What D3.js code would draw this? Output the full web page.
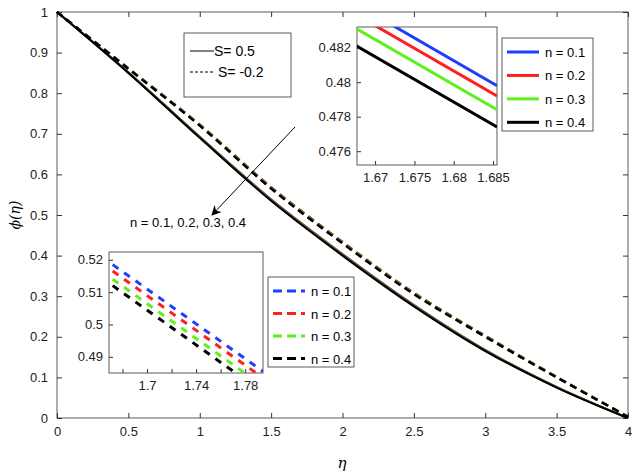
<!DOCTYPE html>
<html><head><meta charset="utf-8">
<script src="https://cdn.jsdelivr.net/npm/d3@7"></script>
<style>body{margin:0;background:#fff}svg{font-family:"Liberation Sans",Arial,sans-serif}</style>
</head><body><svg id="c" width="640" height="474"></svg>
<script>
// main curves
const eta = [0, 0.5, 1, 1.5, 2, 2.5, 3, 3.5, 4];
const solidBase = [1, 0.85, 0.69, 0.535, 0.40, 0.275, 0.165, 0.075, 0];
const dashBase = [1, 0.86, 0.72, 0.565, 0.43, 0.305, 0.20, 0.10, 0.003];
const nLabels = ["n = 0.1", "n = 0.2", "n = 0.3", "n = 0.4"];
const colors = ["#1f3fff", "#ff1f1f", "#5ef01a", "#000000"];
const nShift = [0.004, 0.003, 0.0015, 0];
const xTicks = [0, 0.5, 1, 1.5, 2, 2.5, 3, 3.5, 4];
const yTicks = [0, 0.1, 0.2, 0.3, 0.4, 0.5, 0.6, 0.7, 0.8, 0.9, 1];
// inset 1 (solid, S = 0.5)
const in1X = [1.665, 1.6855];
const in1Y = [[0.4852, 0.4798], [0.4846, 0.4792], [0.4838, 0.4784], [0.4828, 0.4774]];
// inset 2 (dashed, S = -0.2)
const in2X = [1.672, 1.7945];
const in2Y = [[0.5185, 0.4855], [0.5165, 0.4835], [0.5140, 0.4810], [0.5120, 0.4790]];

const svg = d3.select("#c");
const x = d3.scaleLinear().domain([0, 4]).range([57, 628]);
const y = d3.scaleLinear().domain([0, 1]).range([418, 12]);

svg.append("rect").attr("x", 57).attr("y", 12).attr("width", 571).attr("height", 406)
  .attr("fill", "none").attr("stroke", "#333").attr("stroke-width", 0.8);
function styleAx(g) {
  g.selectAll("path").remove();
  g.selectAll("line").attr("stroke", "#333");
  g.selectAll("text").attr("font-size", 13).attr("fill", "#222");
}
svg.append("g").attr("transform", "translate(0,418)")
  .call(d3.axisBottom(x).tickValues(xTicks).tickSizeInner(-5).tickSizeOuter(0).tickPadding(9).tickFormat(d3.format("")))
  .call(styleAx);
svg.append("g").attr("transform", "translate(0,12)")
  .call(d3.axisTop(x).tickValues(xTicks).tickSizeInner(-5).tickFormat("")).call(styleAx);
svg.append("g").attr("transform", "translate(57,0)")
  .call(d3.axisLeft(y).tickValues(yTicks).tickSizeInner(-5).tickSizeOuter(0).tickPadding(9).tickFormat(d3.format("")))
  .call(styleAx);
svg.append("g").attr("transform", "translate(628,0)")
  .call(d3.axisRight(y).tickValues(yTicks).tickSizeInner(-5).tickFormat("")).call(styleAx);

const line = d3.line().x(d => x(d[0])).y(d => y(d[1])).curve(d3.curveCatmullRom);
nShift.forEach((s, i) => {
  svg.append("path").datum(eta.map((e, k) => [e, dashBase[k] + s * Math.sin(Math.PI * e / 4)]))
    .attr("d", line).attr("fill", "none").attr("stroke", i === 3 ? "#000" : "#7a6a30")
    .attr("stroke-width", 2.4).attr("stroke-dasharray", "7,5");
  svg.append("path").datum(eta.map((e, k) => [e, solidBase[k] + s * Math.sin(Math.PI * e / 4)]))
    .attr("d", line).attr("fill", "none").attr("stroke", i === 3 ? "#000" : "#6a5a40")
    .attr("stroke-width", 2);
});

svg.append("text").attr("x", 342).attr("y", 468).attr("text-anchor", "middle")
  .attr("font-size", 15).attr("font-style", "italic").attr("font-family", "DejaVu Serif").text("η");
svg.append("text").attr("transform", "translate(20,215) rotate(-90)").attr("text-anchor", "middle")
  .attr("font-size", 14).attr("font-family", "DejaVu Serif").attr("font-style", "italic").text("ϕ(η)");

// S legend
const lg = svg.append("g");
lg.append("rect").attr("x", 184).attr("y", 33).attr("width", 107).attr("height", 64)
  .attr("fill", "#fff").attr("stroke", "#333").attr("stroke-width", 0.8);
lg.append("line").attr("x1", 190).attr("x2", 214).attr("y1", 51).attr("y2", 51).attr("stroke", "#000");
lg.append("line").attr("x1", 190).attr("x2", 214).attr("y1", 72).attr("y2", 72).attr("stroke", "#000").attr("stroke-dasharray", "3,2");
lg.append("text").attr("x", 214).attr("y", 56).attr("font-size", 14).text("S= 0.5");
lg.append("text").attr("x", 218).attr("y", 77).attr("font-size", 14).text("S= -0.2");

// arrow
svg.append("defs").append("marker").attr("id", "ar").attr("viewBox", "0 0 10 10").attr("refX", 9).attr("refY", 5)
  .attr("markerWidth", 12).attr("markerHeight", 10).attr("orient", "auto")
  .append("path").attr("d", "M0,0L10,5L0,10L3,5Z").attr("fill", "#000");
svg.append("line").attr("x1", 295).attr("y1", 127).attr("x2", 212).attr("y2", 215)
  .attr("stroke", "#000").attr("marker-end", "url(#ar)");
svg.append("text").attr("x", 130).attr("y", 227).attr("font-size", 13).text("n = 0.1, 0.2, 0.3, 0.4");

function inset(box, xd, yd, xt, xl, yt, xs, ys, dashed, leg) {
  const g = svg.append("g");
  const ix = d3.scaleLinear().domain(xd).range([box[0], box[2]]);
  const iy = d3.scaleLinear().domain(yd).range([box[3], box[1]]);
  g.append("rect").attr("x", box[0]).attr("y", box[1]).attr("width", box[2] - box[0]).attr("height", box[3] - box[1])
    .attr("fill", "#fff").attr("stroke", "#333").attr("stroke-width", 0.8);
  const id = "cl" + box[0];
  g.append("clipPath").attr("id", id).append("rect").attr("x", box[0]).attr("y", box[1])
    .attr("width", box[2] - box[0]).attr("height", box[3] - box[1]);
  g.append("g").attr("transform", `translate(0,${box[3]})`)
    .call(d3.axisBottom(ix).tickValues(xt).tickSizeInner(-4).tickSizeOuter(0).tickPadding(8)
      .tickFormat(d => xl.some(v => Math.abs(v - d) < 1e-9) ? d3.format("")(+d.toFixed(3)) : ""))
    .call(styleAx);
  g.append("g").attr("transform", `translate(${box[0]},0)`)
    .call(d3.axisLeft(iy).tickValues(yt).tickSizeInner(-4).tickSizeOuter(0).tickPadding(6)
      .tickFormat(d => d3.format("")(+d.toFixed(3)))).call(styleAx);
  const il = d3.line().x(d => ix(d[0])).y(d => iy(d[1]));
  ys.forEach((s, i) => {
    g.append("path").datum(xs.map((v, k) => [v, s[k]])).attr("d", il).attr("clip-path", `url(#${id})`)
      .attr("fill", "none").attr("stroke", colors[i]).attr("stroke-width", 3)
      .attr("stroke-dasharray", dashed ? "7,7" : null);
  });
  const L = svg.append("g");
  L.append("rect").attr("x", leg[0]).attr("y", leg[1]).attr("width", leg[2]).attr("height", leg[3])
    .attr("fill", "#fff").attr("stroke", "#333").attr("stroke-width", 0.8);
  nLabels.forEach((t, i) => {
    const yy = leg[1] + 14 + i * (leg[3] - 18) / 3.2;
    L.append("line").attr("x1", leg[0] + 5).attr("x2", leg[0] + 37).attr("y1", yy).attr("y2", yy)
      .attr("stroke", colors[i]).attr("stroke-width", 3).attr("stroke-dasharray", dashed ? "9,5" : null);
    L.append("text").attr("x", leg[0] + 43).attr("y", yy + 5).attr("font-size", 13).text(t);
  });
}
inset([357, 27, 497, 165], [1.6677, 1.6855], [0.4752, 0.4832], [1.67, 1.675, 1.68, 1.685], [1.67, 1.675, 1.68, 1.685],
  [0.476, 0.478, 0.48, 0.482], in1X, in1Y, false, [502, 38, 91, 93]);
inset([109, 252, 263, 373], [1.669, 1.7945], [0.485, 0.5224], [1.68, 1.7, 1.72, 1.74, 1.76, 1.78], [1.7, 1.74, 1.78],
  [0.49, 0.5, 0.51, 0.52], in2X, in2Y, true, [268, 277, 86, 90]);
</script></body></html>
